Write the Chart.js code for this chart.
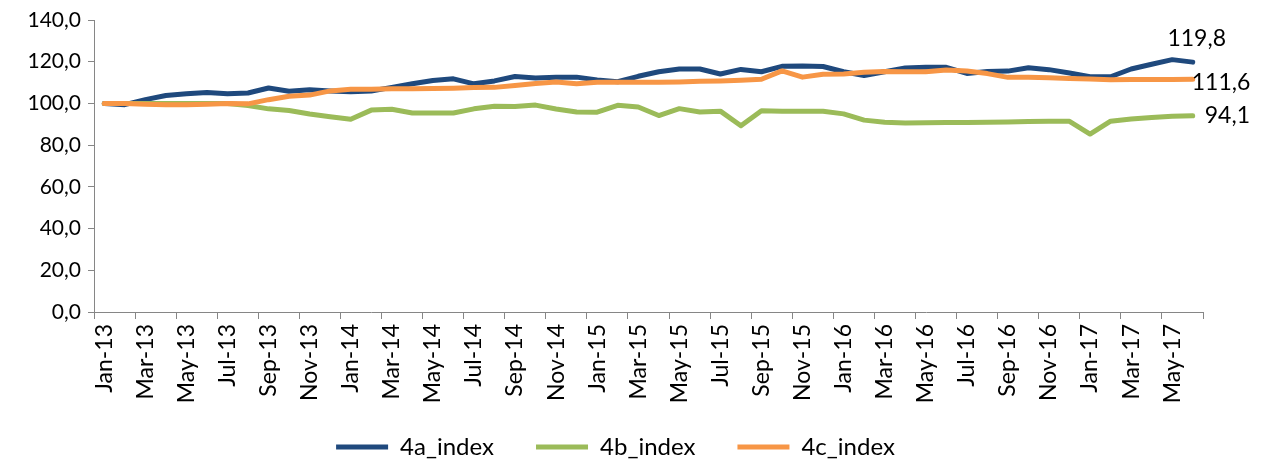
<!DOCTYPE html>
<html>
<head>
<meta charset="utf-8">
<script src="https://cdn.jsdelivr.net/npm/chart.js@4"></script>
<style>
  html, body { margin: 0; padding: 0; background: #fff; }
</style>
</head>
<body>
<canvas id="myChart" width="1271" height="462"></canvas>
<script>
// monthly categories Jan-13 .. Jun-17
const monthNames = ['Jan', 'Feb', 'Mar', 'Apr', 'May', 'Jun', 'Jul', 'Aug', 'Sep', 'Oct', 'Nov', 'Dec'];
const months = [];
for (let y = 13; y <= 17; y++) {
    monthNames.forEach((m, i) => {
        if (y < 17 || i < 6) months.push(m + '-' + y);
    });
}

const index4a = [
    100.0, 99.4, 101.8, 103.8, 104.6, 105.2, 104.6, 105.0, 107.4, 105.8, 106.6, 106.0,
    105.6, 106.0, 107.7, 109.4, 111.0, 111.8, 109.4, 110.8, 112.9, 112.2, 112.6, 112.6,
    111.2, 110.4, 113.0, 115.2, 116.5, 116.5, 114.1, 116.3, 115.2, 117.8, 117.9, 117.7,
    115.2, 113.4, 115.2, 117.0, 117.4, 117.3, 114.4, 115.3, 115.5, 117.1, 116.2, 114.6,
    112.8, 112.8, 116.5, 118.8, 121.0, 119.8
];
const index4b = [
    100.0, 100.0, 100.0, 100.0, 100.0, 100.0, 100.0, 99.0, 97.4, 96.6, 94.9, 93.6,
    92.4, 96.8, 97.2, 95.4, 95.4, 95.4, 97.4, 98.6, 98.5, 99.2, 97.3, 95.9,
    95.8, 99.1, 98.3, 94.2, 97.5, 95.9, 96.3, 89.3, 96.5, 96.3, 96.3, 96.2,
    95.0, 92.0, 91.0, 90.6, 90.7, 90.8, 90.9, 91.0, 91.1, 91.3, 91.5, 91.4,
    85.3, 91.5, 92.5, 93.3, 93.8, 94.1
];
const index4c = [
    100.0, 100.0, 99.6, 99.4, 99.4, 99.6, 100.0, 99.8, 101.8, 103.4, 104.0, 106.0,
    106.8, 106.8, 107.0, 107.0, 107.1, 107.3, 107.6, 107.7, 108.6, 109.5, 110.3, 109.4,
    110.1, 110.2, 110.1, 110.1, 110.3, 110.6, 110.8, 111.1, 111.6, 115.6, 112.6, 114.0,
    114.1, 114.9, 115.3, 115.2, 115.2, 116.0, 115.5, 114.3, 112.5, 112.5, 112.3, 112.0,
    111.7, 111.3, 111.5, 111.5, 111.5, 111.6
];
const yTicks = [0, 20, 40, 60, 80, 100, 120, 140];

const axisGray = '#868686';
const fmt = v => v.toFixed(1).replace('.', ',');

// value labels at the last point of each line
const labelPos = [
    { dx: 4, dy: -24, align: 'center' },
    { dx: 12, dy: 0, align: 'left' },
    { dx: -1, dy: 3, align: 'left' }
];
const endLabels = {
    id: 'endLabels',
    afterDatasetsDraw(chart) {
        const ctx = chart.ctx;
        ctx.save();
        ctx.font = '23px Lato';
        ctx.fillStyle = '#000';
        ctx.textBaseline = 'middle';
        chart.data.datasets.forEach((ds, i) => {
            const pts = chart.getDatasetMeta(i).data;
            const p = pts[pts.length - 1];
            ctx.textAlign = labelPos[i].align;
            ctx.fillText(fmt(ds.data[ds.data.length - 1]), p.x + labelPos[i].dx, p.y + labelPos[i].dy);
        });
        ctx.restore();
    }
};

// move legend up (and a bit right) inside the space reserved for it
const legendShift = {
    id: 'legendShift',
    afterLayout(chart) {
        chart.legend.top = 447 - 42 - 12;
        chart.legend.left += 14;
        chart.legend.right += 14;
    }
};

const lineChart = new Chart(document.getElementById('myChart'), {
    type: 'line',
    data: {
        labels: months,
        datasets: [{
            label: '4a_index',
            data: index4a,
            borderColor: '#1F497D',
            order: 2
        }, {
            label: '4b_index',
            data: index4b,
            borderColor: '#9BBB59',
            order: 1
        }, {
            label: '4c_index',
            data: index4c,
            borderColor: '#F79646',
            order: 0
        }]
    },
    options: {
        responsive: false,
        animation: false,
        layout: { padding: { top: 20, right: 68, left: 0, bottom: 0 } },
        elements: {
            line: { borderWidth: 5, tension: 0, borderJoinStyle: 'round', borderCapStyle: 'round' },
            point: { radius: 0 }
        },
        plugins: {
            tooltip: { enabled: false },
            legend: {
                position: 'bottom',
                maxHeight: 31,
                labels: {
                    boxWidth: 52,
                    boxHeight: 5,
                    padding: 42,
                    color: '#000',
                    font: { family: 'Lato', size: 24 },
                    generateLabels: chart => chart.data.datasets.map((ds, i) => ({
                        text: ds.label,
                        fillStyle: ds.borderColor,
                        strokeStyle: ds.borderColor,
                        lineWidth: 0,
                        fontColor: '#000',
                        hidden: false,
                        datasetIndex: i
                    }))
                }
            }
        },
        scales: {
            x: {
                offset: true,
                grid: {
                    offset: true,
                    drawOnChartArea: false,
                    tickLength: 7,
                    color: c => (c.index === undefined || c.index % 2 === 0) ? axisGray : 'rgba(0,0,0,0)'
                },
                border: { color: axisGray, width: 1 },
                ticks: {
                    autoSkip: false,
                    minRotation: 90,
                    maxRotation: 90,
                    padding: 5,
                    color: '#000',
                    font: { family: 'Lato', size: 23 },
                    callback: function (v, i) { return i % 2 === 0 ? this.getLabelForValue(v) : ''; }
                },
                afterFit: s => { s.height = 119; }
            },
            y: {
                min: yTicks[0],
                max: yTicks[yTicks.length - 1],
                afterBuildTicks: s => { s.ticks = yTicks.map(v => ({ value: v })); },
                grid: { drawOnChartArea: false, tickLength: 6, color: axisGray },
                border: { color: axisGray, width: 1 },
                ticks: {
                    padding: 7,
                    color: '#000',
                    font: { family: 'Lato', size: 21 },
                    callback: v => fmt(v)
                },
                afterFit: s => { s.width = 94; }
            }
        }
    },
    plugins: [endLabels, legendShift]
});
</script>
</body>
</html>
